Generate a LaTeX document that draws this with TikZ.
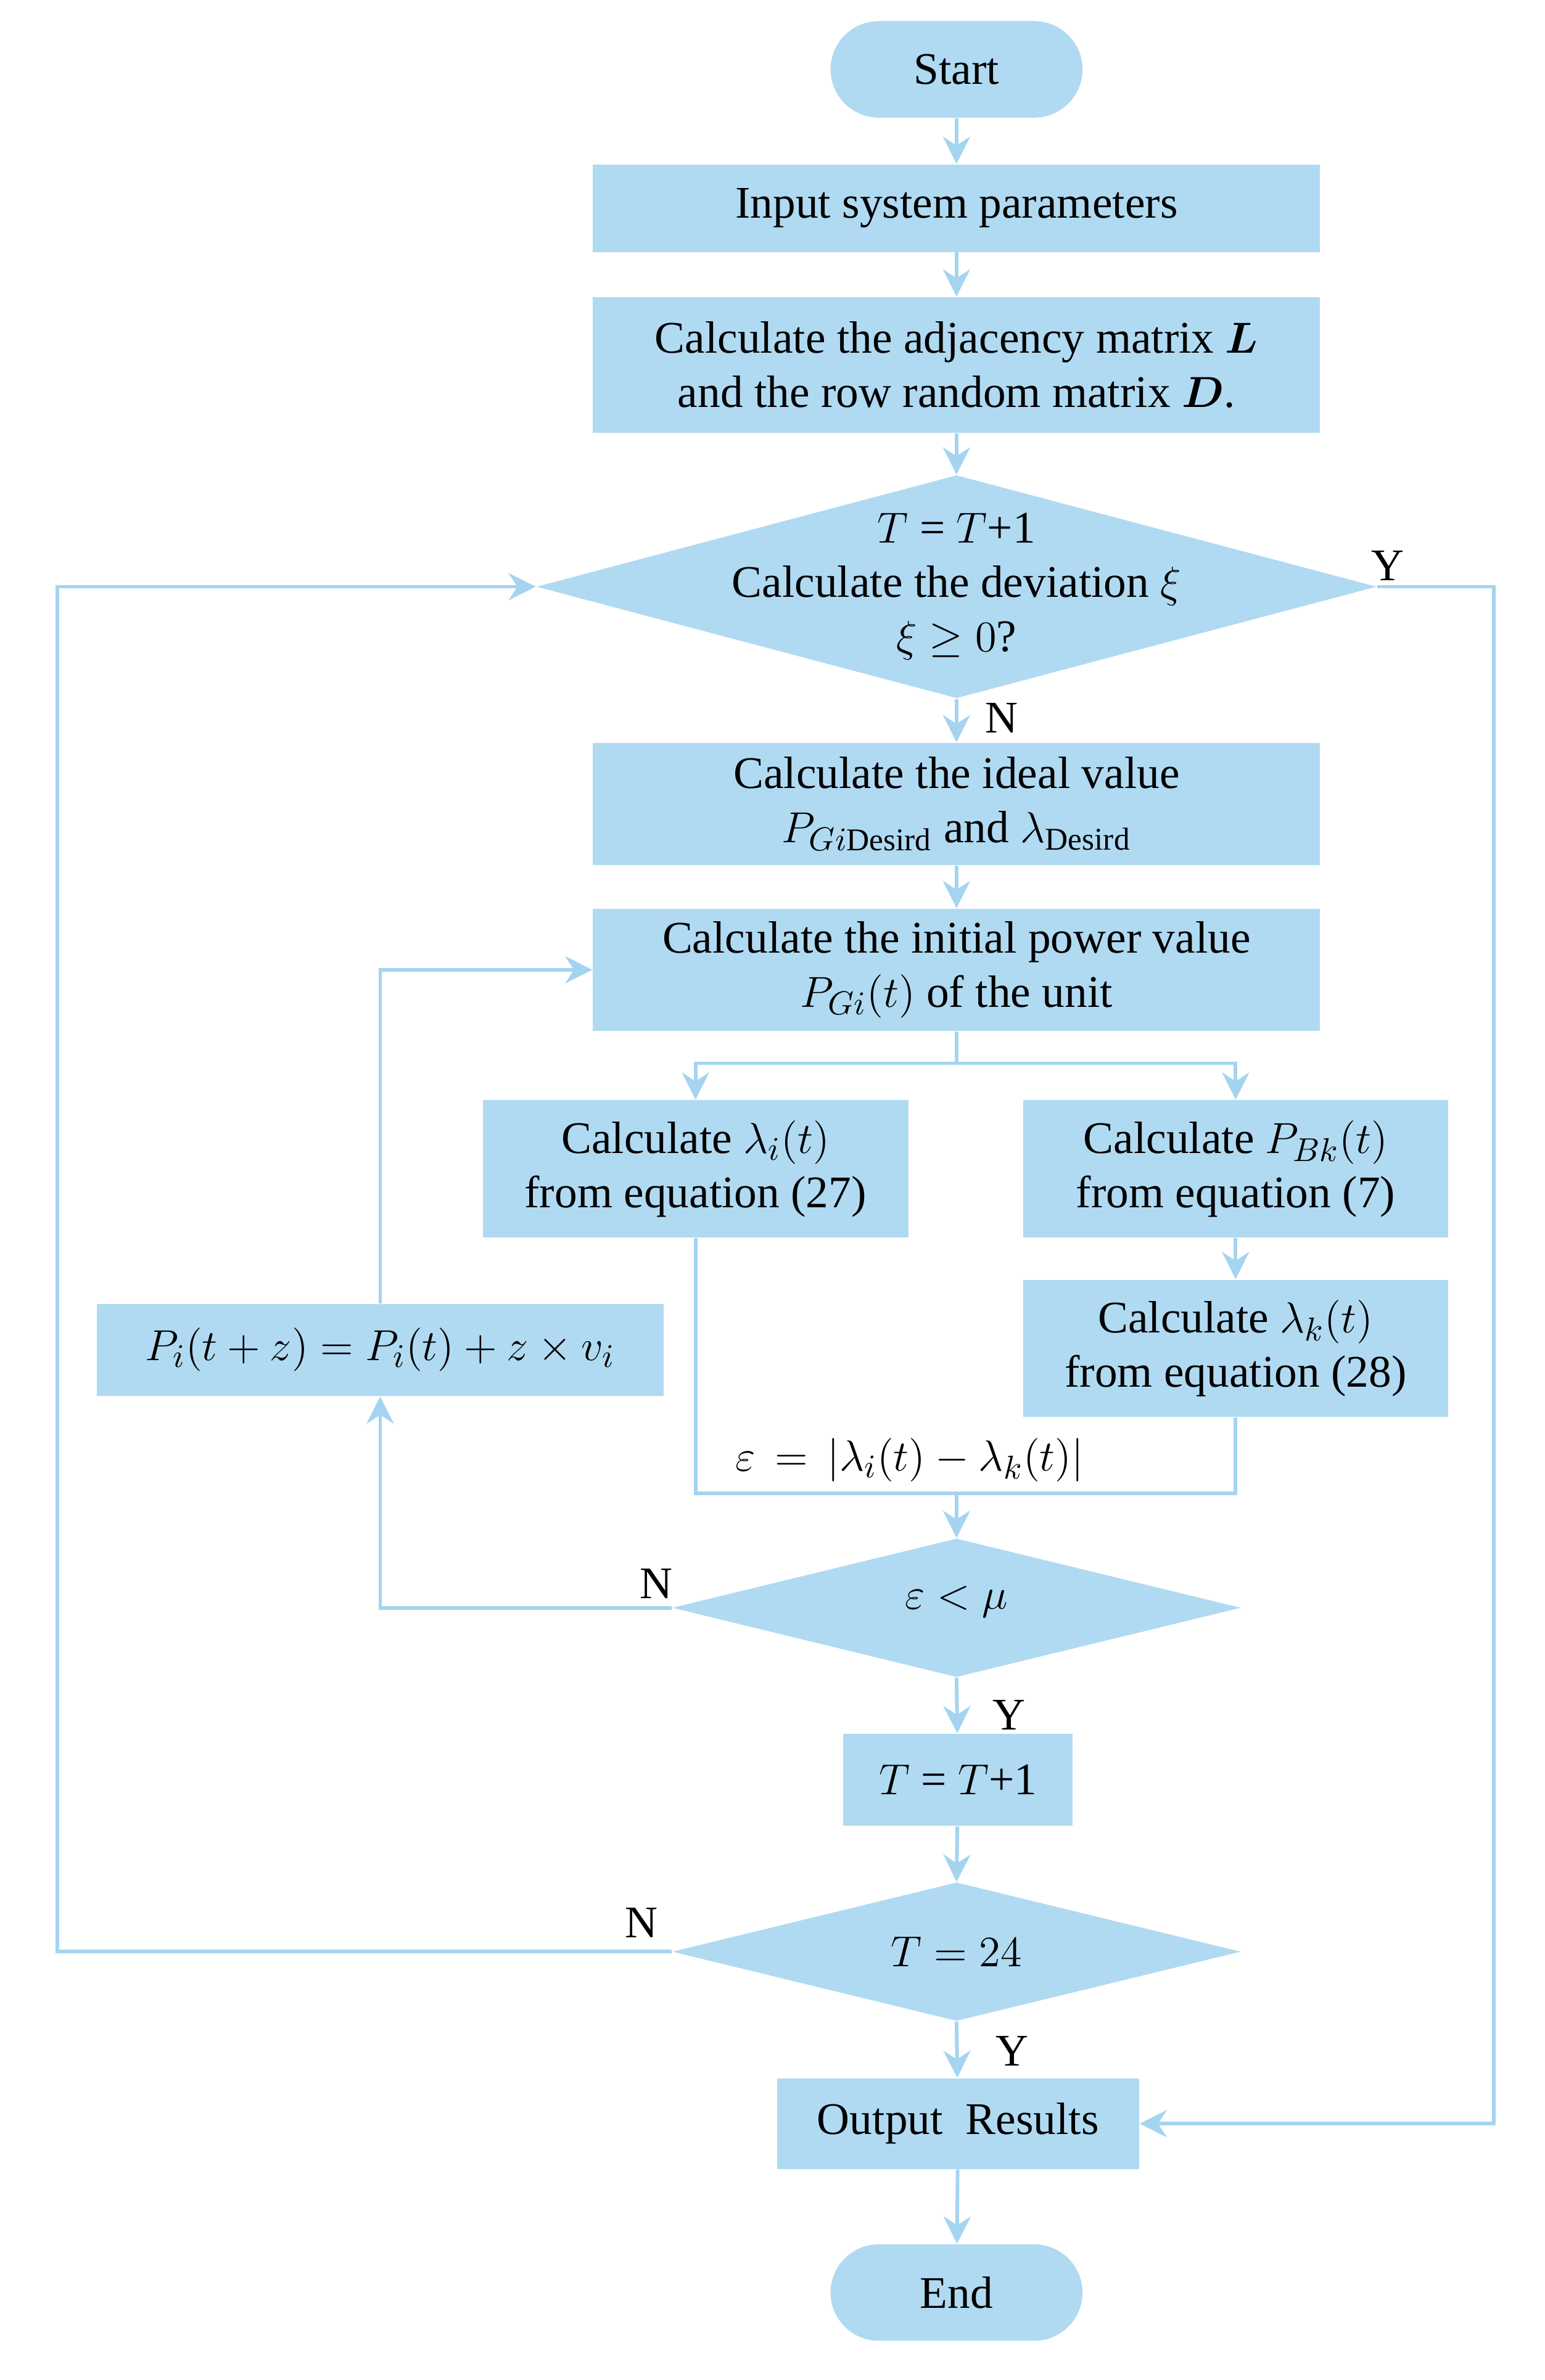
\documentclass[tikz,border=0pt]{standalone}
\usepackage{amsmath,bm}
\usepackage{fontspec}
\setmainfont{Liberation Serif}
\usetikzlibrary{shapes.geometric,arrows.meta}
\definecolor{bx}{HTML}{B0DAF2}
\definecolor{ln}{HTML}{A4D4F0}
\begin{document}
\begin{tikzpicture}[x=0.5pt,y=-0.5pt,
  box/.style={draw=none,fill=bx,minimum width=#1,inner sep=0pt,align=center,font=\fontsize{15}{18}\selectfont},
  lin/.style={draw=ln,line width=1.2pt},
  arr/.style={lin,-{Stealth[length=9pt,width=9pt]}},
  lab/.style={font=\fontsize{15}{18}\selectfont}]
\useasboundingbox (0,0) rectangle (1024,1578);
\node[box=83.5pt,minimum height=32pt,rounded corners=16pt] (start) at (634,46) {Start};
\node[box=241pt,minimum height=29pt] (inp) at (634,138) {Input system parameters};
\node[box=241pt,minimum height=45pt] (adj) at (634,242) {Calculate the adjacency matrix $\bm{L}$\\and the row random matrix $\bm{D}$.};
\node[diamond,aspect=3.76,fill=bx,inner sep=0pt,minimum width=278.5pt,minimum height=74pt] (d1) at (634,389) {};
\node[lab,align=center] at (634,389) {$T$ = $T$+1\\Calculate the deviation $\xi$\\$\xi \geq 0$?};
\node[box=241pt,minimum height=40.5pt] (ideal) at (634,533) {Calculate the ideal value\\$P_{Gi\mathrm{Desird}}$ and $\lambda_{\mathrm{Desird}}$};
\node[box=241pt,minimum height=40.5pt] (init) at (634,643) {Calculate the initial power value\\$P_{Gi}(t)$ of the unit};
\node[box=141pt,minimum height=45.5pt] (li) at (461,775) {Calculate $\lambda_i(t)$\\from equation (27)};
\node[box=141pt,minimum height=45.5pt] (pb) at (819,775) {Calculate $P_{Bk}(t)$\\from equation (7)};
\node[box=141pt,minimum height=45.5pt] (lk) at (819,894) {Calculate $\lambda_k(t)$\\from equation (28)};
\node[box=188pt,minimum height=30.5pt] (upd) at (252,895) {$P_i(t+z)=P_i(t)+z\times v_i$};
\node[diamond,aspect=4.1,fill=bx,inner sep=0pt,minimum width=188.5pt,minimum height=46pt] (d2) at (634,1066) {};
\node[lab] at (634,1062) {$\varepsilon<\mu$};
\node[box=76pt,minimum height=30.5pt] (tt) at (635,1180) {$T$ = $T$+1};
\node[diamond,aspect=4.1,fill=bx,inner sep=0pt,minimum width=188.5pt,minimum height=46pt] (d3) at (634,1294) {};
\node[lab] at (634,1294) {$T=24$};
\node[box=120pt,minimum height=30pt] (out) at (635,1408) {Output\ \ Results};
\node[box=83.5pt,minimum height=32pt,rounded corners=16pt] (end) at (634,1520) {End};
\coordinate (j) at (634,990);
\draw[arr] (start) -- (inp);
\draw[arr] (inp) -- (adj);
\draw[arr] (adj) -- (d1.north);
\draw[arr] (d1.south) -- (ideal);
\draw[arr] (ideal) -- (init);
\draw[lin] (init.south) -- (634,705);
\draw[arr] (634,705) -| (li.north);
\draw[arr] (634,705) -| (pb.north);
\draw[arr] (pb) -- (lk);
\draw[lin] (li.south) |- (j);
\draw[lin] (lk.south) |- (j);
\draw[arr] (j) -- (d2.north);
\draw[arr] (d2.west) -| (upd.south);
\draw[arr] (upd.north) |- (init.west);
\draw[arr] (d2.south) -- (tt);
\draw[arr] (tt) -- (d3.north);
\draw[arr] (d3.south) -- (out);
\draw[arr] (out) -- (end);
\draw[arr] (d3.west) -- (38,1294) -- (38,389) -- (d1.west);
\draw[arr] (d1.east) -- (990,389) -- (990,1408) -- (out.east);
\node[lab] at (603,968) {$\varepsilon\,=\,\left|\lambda_i(t)-\lambda_k(t)\right|$};
\node[lab] at (920,375) {Y};
\node[lab] at (664,476) {N};
\node[lab] at (435,1050) {N};
\node[lab] at (669,1137) {Y};
\node[lab] at (425,1275) {N};
\node[lab] at (671,1360) {Y};
\end{tikzpicture}
\end{document}
